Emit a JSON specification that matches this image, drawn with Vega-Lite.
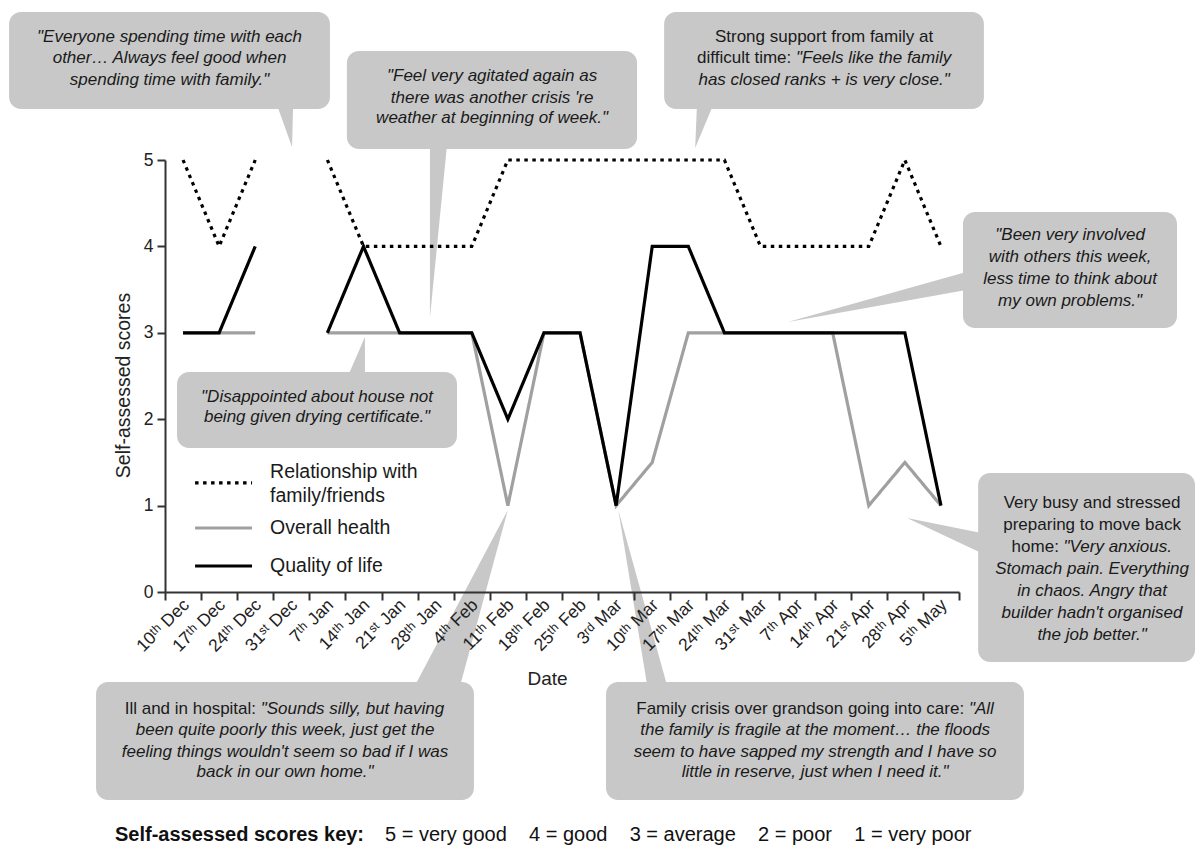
{
  "$schema": "https://vega.github.io/schema/vega-lite/v6.json",
  "width": 794,
  "height": 432,
  "autosize": {"type": "none"},
  "padding": {"left": 165, "top": 160, "right": 237, "bottom": 264},
  "background": "white",
  "config": {
    "view": {"stroke": null},
    "font": "Liberation Sans",
    "axis": {"labelColor": "#222", "titleColor": "#222", "labelFont": "Liberation Sans", "titleFont": "Liberation Sans"}
  },
  "resolve": {"axis": {"x": "independent", "y": "independent"}},
  "datasets": {
    "scores": [
      {"week": 0, "date": "10th Dec", "series": "Overall health", "score": 3},
      {"week": 1, "date": "17th Dec", "series": "Overall health", "score": 3},
      {"week": 2, "date": "24th Dec", "series": "Overall health", "score": 3},
      {"week": 3, "date": "31st Dec", "series": "Overall health", "score": null},
      {"week": 4, "date": "7th Jan", "series": "Overall health", "score": 3},
      {"week": 5, "date": "14th Jan", "series": "Overall health", "score": 3},
      {"week": 6, "date": "21st Jan", "series": "Overall health", "score": 3},
      {"week": 7, "date": "28th Jan", "series": "Overall health", "score": 3},
      {"week": 8, "date": "4th Feb", "series": "Overall health", "score": 3},
      {"week": 9, "date": "11th Feb", "series": "Overall health", "score": 1},
      {"week": 10, "date": "18th Feb", "series": "Overall health", "score": 3},
      {"week": 11, "date": "25th Feb", "series": "Overall health", "score": 3},
      {"week": 12, "date": "3rd Mar", "series": "Overall health", "score": 1},
      {"week": 13, "date": "10th Mar", "series": "Overall health", "score": 1.5},
      {"week": 14, "date": "17th Mar", "series": "Overall health", "score": 3},
      {"week": 15, "date": "24th Mar", "series": "Overall health", "score": 3},
      {"week": 16, "date": "31st Mar", "series": "Overall health", "score": 3},
      {"week": 17, "date": "7th Apr", "series": "Overall health", "score": 3},
      {"week": 18, "date": "14th Apr", "series": "Overall health", "score": 3},
      {"week": 19, "date": "21st Apr", "series": "Overall health", "score": 1},
      {"week": 20, "date": "28th Apr", "series": "Overall health", "score": 1.5},
      {"week": 21, "date": "5th May", "series": "Overall health", "score": 1},
      {"week": 0, "date": "10th Dec", "series": "Quality of life", "score": 3},
      {"week": 1, "date": "17th Dec", "series": "Quality of life", "score": 3},
      {"week": 2, "date": "24th Dec", "series": "Quality of life", "score": 4},
      {"week": 3, "date": "31st Dec", "series": "Quality of life", "score": null},
      {"week": 4, "date": "7th Jan", "series": "Quality of life", "score": 3},
      {"week": 5, "date": "14th Jan", "series": "Quality of life", "score": 4},
      {"week": 6, "date": "21st Jan", "series": "Quality of life", "score": 3},
      {"week": 7, "date": "28th Jan", "series": "Quality of life", "score": 3},
      {"week": 8, "date": "4th Feb", "series": "Quality of life", "score": 3},
      {"week": 9, "date": "11th Feb", "series": "Quality of life", "score": 2},
      {"week": 10, "date": "18th Feb", "series": "Quality of life", "score": 3},
      {"week": 11, "date": "25th Feb", "series": "Quality of life", "score": 3},
      {"week": 12, "date": "3rd Mar", "series": "Quality of life", "score": 1},
      {"week": 13, "date": "10th Mar", "series": "Quality of life", "score": 4},
      {"week": 14, "date": "17th Mar", "series": "Quality of life", "score": 4},
      {"week": 15, "date": "24th Mar", "series": "Quality of life", "score": 3},
      {"week": 16, "date": "31st Mar", "series": "Quality of life", "score": 3},
      {"week": 17, "date": "7th Apr", "series": "Quality of life", "score": 3},
      {"week": 18, "date": "14th Apr", "series": "Quality of life", "score": 3},
      {"week": 19, "date": "21st Apr", "series": "Quality of life", "score": 3},
      {"week": 20, "date": "28th Apr", "series": "Quality of life", "score": 3},
      {"week": 21, "date": "5th May", "series": "Quality of life", "score": 1},
      {"week": 0, "date": "10th Dec", "series": "Relationship with family/friends", "score": 5},
      {"week": 1, "date": "17th Dec", "series": "Relationship with family/friends", "score": 4},
      {"week": 2, "date": "24th Dec", "series": "Relationship with family/friends", "score": 5},
      {"week": 3, "date": "31st Dec", "series": "Relationship with family/friends", "score": null},
      {"week": 4, "date": "7th Jan", "series": "Relationship with family/friends", "score": 5},
      {"week": 5, "date": "14th Jan", "series": "Relationship with family/friends", "score": 4},
      {"week": 6, "date": "21st Jan", "series": "Relationship with family/friends", "score": 4},
      {"week": 7, "date": "28th Jan", "series": "Relationship with family/friends", "score": 4},
      {"week": 8, "date": "4th Feb", "series": "Relationship with family/friends", "score": 4},
      {"week": 9, "date": "11th Feb", "series": "Relationship with family/friends", "score": 5},
      {"week": 10, "date": "18th Feb", "series": "Relationship with family/friends", "score": 5},
      {"week": 11, "date": "25th Feb", "series": "Relationship with family/friends", "score": 5},
      {"week": 12, "date": "3rd Mar", "series": "Relationship with family/friends", "score": 5},
      {"week": 13, "date": "10th Mar", "series": "Relationship with family/friends", "score": 5},
      {"week": 14, "date": "17th Mar", "series": "Relationship with family/friends", "score": 5},
      {"week": 15, "date": "24th Mar", "series": "Relationship with family/friends", "score": 5},
      {"week": 16, "date": "31st Mar", "series": "Relationship with family/friends", "score": 4},
      {"week": 17, "date": "7th Apr", "series": "Relationship with family/friends", "score": 4},
      {"week": 18, "date": "14th Apr", "series": "Relationship with family/friends", "score": 4},
      {"week": 19, "date": "21st Apr", "series": "Relationship with family/friends", "score": 4},
      {"week": 20, "date": "28th Apr", "series": "Relationship with family/friends", "score": 5},
      {"week": 21, "date": "5th May", "series": "Relationship with family/friends", "score": 4}
    ],
    "boxes": [
      {"id": "b1", "x1": -4.82, "x2": 4.07, "y1": 6.713, "y2": 5.59},
      {"id": "b2", "x1": 4.54, "x2": 12.58, "y1": 6.262, "y2": 5.127},
      {"id": "b3", "x1": 13.33, "x2": 22.19, "y1": 6.713, "y2": 5.59},
      {"id": "b4", "x1": 21.61, "x2": 27.54, "y1": 4.398, "y2": 3.056},
      {"id": "b5", "x1": -0.166, "x2": 7.59, "y1": 2.546, "y2": 1.667},
      {"id": "b6", "x1": 22.03, "x2": 28.04, "y1": 1.377, "y2": -0.81},
      {"id": "b7", "x1": -2.41, "x2": 8.06, "y1": -1.042, "y2": -2.407},
      {"id": "b8", "x1": 11.72, "x2": 23.3, "y1": -1.042, "y2": -2.407}
    ],
    "pointersUpDown": [
      {"id": "w1", "y": 5.64, "xa": 2.6, "xb": 3.05},
      {"id": "w1", "y": 5.15, "xa": 3.02, "xb": 3.02},
      {"id": "w2", "y": 5.2, "xa": 6.84, "xb": 7.32},
      {"id": "w2", "y": 3.17, "xa": 6.84, "xb": 6.84},
      {"id": "w3", "y": 5.64, "xa": 14.24, "xb": 14.69},
      {"id": "w3", "y": 5.14, "xa": 14.19, "xb": 14.19},
      {"id": "w5", "y": 2.5, "xa": 4.57, "xb": 5.04},
      {"id": "w5", "y": 2.95, "xa": 5.04, "xb": 5.04},
      {"id": "w7", "y": -1.08, "xa": 6.43, "xb": 7.68},
      {"id": "w7", "y": 0.95, "xa": 9.0, "xb": 9.0},
      {"id": "w8", "y": -1.08, "xa": 12.86, "xb": 13.41},
      {"id": "w8", "y": 0.95, "xa": 12.06, "xb": 12.06}
    ],
    "pointersSide": [
      {"id": "w4", "x": 16.76, "ya": 3.125, "yb": 3.125},
      {"id": "w4", "x": 21.7, "ya": 3.704, "yb": 3.495},
      {"id": "w6", "x": 20.06, "ya": 0.856, "yb": 0.856},
      {"id": "w6", "x": 22.12, "ya": 0.683, "yb": 0.451}
    ],
    "legendLines": [
      {"series": "Relationship with family/friends", "x1": 0.333, "x2": 1.912, "y": 1.262},
      {"series": "Overall health", "x1": 0.333, "x2": 1.912, "y": 0.741},
      {"series": "Quality of life", "x1": 0.333, "x2": 1.912, "y": 0.301}
    ],
    "texts": [
      {"style": "ic", "x": -0.374, "y": 6.424, "text": "\"Everyone spending time with each"},
      {"style": "ic", "x": -0.374, "y": 6.181, "text": "other… Always feel good when"},
      {"style": "ic", "x": -0.374, "y": 5.926, "text": "spending time with family.\""},
      {"style": "ic", "x": 8.562, "y": 5.972, "text": "\"Feel very agitated again as"},
      {"style": "ic", "x": 8.562, "y": 5.718, "text": "there was another crisis 're"},
      {"style": "ic", "x": 8.562, "y": 5.486, "text": "weather at beginning of week.\""},
      {"style": "nc", "x": 17.761, "y": 6.424, "text": "Strong support from family at"},
      {"style": "nr", "x": 16.853, "y": 6.181, "text": "difficult time:"},
      {"style": "il", "x": 16.983, "y": 6.181, "text": "\"Feels like the family"},
      {"style": "ic", "x": 17.761, "y": 5.926, "text": "has closed ranks + is very close.\""},
      {"style": "ic", "x": 24.578, "y": 4.132, "text": "\"Been very involved"},
      {"style": "ic", "x": 24.578, "y": 3.877, "text": "with others this week,"},
      {"style": "ic", "x": 24.578, "y": 3.623, "text": "less time to think about"},
      {"style": "ic", "x": 24.578, "y": 3.368, "text": "my own problems.\""},
      {"style": "ic", "x": 3.713, "y": 2.257, "text": "\"Disappointed about house not"},
      {"style": "ic", "x": 3.713, "y": 2.025, "text": "being given drying certificate.\""},
      {"style": "nc", "x": 25.187, "y": 1.03, "text": "Very busy and stressed"},
      {"style": "nc", "x": 25.187, "y": 0.775, "text": "preparing to move back"},
      {"style": "nr", "x": 24.267, "y": 0.521, "text": "home:"},
      {"style": "il", "x": 24.397, "y": 0.521, "text": "\"Very anxious."},
      {"style": "ic", "x": 25.187, "y": 0.266, "text": "Stomach pain. Everything"},
      {"style": "ic", "x": 25.187, "y": 0.012, "text": "in chaos. Angry that"},
      {"style": "ic", "x": 25.187, "y": -0.243, "text": "builder hadn't organised"},
      {"style": "ic", "x": 25.187, "y": -0.498, "text": "the job better.\""},
      {"style": "nr", "x": 2.023, "y": -1.354, "text": "Ill and in hospital:"},
      {"style": "il", "x": 2.153, "y": -1.354, "text": "\"Sounds silly, but having"},
      {"style": "ic", "x": 2.826, "y": -1.597, "text": "been quite poorly this week, just get the"},
      {"style": "ic", "x": 2.826, "y": -1.852, "text": "feeling things wouldn't seem so bad if I was"},
      {"style": "ic", "x": 2.826, "y": -2.083, "text": "back in our own home.\""},
      {"style": "nr", "x": 21.643, "y": -1.354, "text": "Family crisis over grandson going into care:"},
      {"style": "il", "x": 21.774, "y": -1.354, "text": "\"All"},
      {"style": "ic", "x": 17.512, "y": -1.597, "text": "the family is fragile at the moment… the floods"},
      {"style": "ic", "x": 17.512, "y": -1.852, "text": "seem to have sapped my strength and I have so"},
      {"style": "ic", "x": 17.512, "y": -2.083, "text": "little in reserve, just when I need it.\""},
      {"style": "br", "x": 5.015, "y": -2.8125, "text": "Self-assessed scores key:"},
      {"style": "nl", "x": 5.597, "y": -2.8125, "text": "5 = very good \u00a0\u00a0\u00a04 = good \u00a0\u00a0\u00a03 = average \u00a0\u00a0\u00a02 = poor \u00a0\u00a0\u00a01 = very poor"},
      {"style": "leg", "x": 2.411, "y": 1.389, "text": "Relationship with"},
      {"style": "leg", "x": 2.411, "y": 1.111, "text": "family/friends"},
      {"style": "leg", "x": 2.411, "y": 0.741, "text": "Overall health"},
      {"style": "leg", "x": 2.411, "y": 0.301, "text": "Quality of life"}
    ]
  },
  "layer": [
    {
      "data": {"name": "boxes"},
      "mark": {"type": "rect", "cornerRadius": 12, "color": "#c8c8c8"},
      "encoding": {
        "x": {"field": "x1", "type": "quantitative", "scale": {"domain": [-0.5, 21.5], "nice": false, "zero": false}, "axis": null},
        "x2": {"field": "x2"},
        "y": {"field": "y1", "type": "quantitative", "scale": {"domain": [0, 5], "nice": false, "zero": false}, "axis": null},
        "y2": {"field": "y2"}
      }
    },
    {
      "data": {"name": "pointersUpDown"},
      "mark": {"type": "area", "orient": "horizontal", "color": "#c8c8c8"},
      "encoding": {
        "y": {"field": "y", "type": "quantitative", "scale": {"domain": [0, 5], "nice": false, "zero": false}, "axis": null},
        "x": {"field": "xa", "type": "quantitative", "scale": {"domain": [-0.5, 21.5], "nice": false, "zero": false}, "axis": null},
        "x2": {"field": "xb"},
        "detail": {"field": "id"}
      }
    },
    {
      "data": {"name": "pointersSide"},
      "mark": {"type": "area", "orient": "vertical", "color": "#c8c8c8"},
      "encoding": {
        "x": {"field": "x", "type": "quantitative", "scale": {"domain": [-0.5, 21.5], "nice": false, "zero": false}, "axis": null},
        "y": {"field": "ya", "type": "quantitative", "scale": {"domain": [0, 5], "nice": false, "zero": false}, "axis": null},
        "y2": {"field": "yb"},
        "detail": {"field": "id"}
      }
    },
    {
      "data": {"name": "scores"},
      "mark": {"type": "line", "strokeWidth": 3.2, "invalid": "break-paths-filter-domains"},
      "encoding": {
        "x": {
          "field": "week", "type": "quantitative",
          "scale": {"domain": [-0.5, 21.5], "nice": false, "zero": false},
          "axis": {
            "title": "Date",
            "orient": "bottom",
            "zindex": 2,
            "values": [-0.5, 0, 0.5, 1, 1.5, 2, 2.5, 3, 3.5, 4, 4.5, 5, 5.5, 6, 6.5, 7, 7.5, 8, 8.5, 9, 9.5, 10, 10.5, 11, 11.5, 12, 12.5, 13, 13.5, 14, 14.5, 15, 15.5, 16, 16.5, 17, 17.5, 18, 18.5, 19, 19.5, 20, 20.5, 21, 21.5],
            "labelExpr": "datum.value % 1 != 0 ? '' : ['10ᵗʰ Dec','17ᵗʰ Dec','24ᵗʰ Dec','31ˢᵗ Dec','7ᵗʰ Jan','14ᵗʰ Jan','21ˢᵗ Jan','28ᵗʰ Jan','4ᵗʰ Feb','11ᵗʰ Feb','18ᵗʰ Feb','25ᵗʰ Feb','3ʳᵈ Mar','10ᵗʰ Mar','17ᵗʰ Mar','24ᵗʰ Mar','31ˢᵗ Mar','7ᵗʰ Apr','14ᵗʰ Apr','21ˢᵗ Apr','28ᵗʰ Apr','5ᵗʰ May'][datum.value]",
            "tickOpacity": {"condition": {"test": "datum.value % 1 != 0", "value": 1}, "value": 0},
            "labelAngle": -45,
            "labelAlign": "right",
            "labelBaseline": "middle",
            "labelFontSize": 17.5,
            "labelPadding": 2,
            "labelOffset": 3,
            "labelOverlap": false,
            "labelFlush": false,
            "labelBound": false,
            "tickSize": 8,
            "tickWidth": 2,
            "tickColor": "#333",
            "domainColor": "#333",
            "domainWidth": 2,
            "grid": false,
            "titleFontSize": 19,
            "titleFontWeight": "normal",
            "titleX": 382,
            "titleY": 86,
            "titleBaseline": "middle"
          }
        },
        "y": {
          "field": "score", "type": "quantitative",
          "scale": {"domain": [0, 5], "nice": false, "zero": false},
          "axis": {
            "title": "Self-assessed scores",
            "orient": "left",
            "zindex": 2,
            "values": [0, 1, 2, 3, 4, 5],
            "tickSize": 8,
            "tickWidth": 2,
            "tickColor": "#333",
            "domainColor": "#333",
            "domainWidth": 2,
            "labelFontSize": 17.5,
            "labelPadding": 4,
            "grid": false,
            "titleFontSize": 19.5,
            "titleFontWeight": "normal",
            "titleX": -42,
            "titleY": 225,
            "titleAngle": -90,
            "titleAlign": "center",
            "titleBaseline": "middle"
          }
        },
        "color": {
          "field": "series", "type": "nominal",
          "scale": {"domain": ["Relationship with family/friends", "Overall health", "Quality of life"], "range": ["#000000", "#a0a0a0", "#000000"]},
          "legend": null
        },
        "strokeDash": {
          "field": "series", "type": "nominal",
          "scale": {"domain": ["Relationship with family/friends", "Overall health", "Quality of life"], "range": [[3.5, 4.5], [1, 0], [1, 0]]},
          "legend": null
        }
      }
    },
    {
      "data": {"name": "legendLines"},
      "mark": {"type": "rule", "strokeWidth": 3.2},
      "encoding": {
        "x": {"field": "x1", "type": "quantitative", "scale": {"domain": [-0.5, 21.5], "nice": false, "zero": false}, "axis": null},
        "x2": {"field": "x2"},
        "y": {"field": "y", "type": "quantitative", "scale": {"domain": [0, 5], "nice": false, "zero": false}, "axis": null},
        "color": {"field": "series", "type": "nominal", "legend": null},
        "strokeDash": {"field": "series", "type": "nominal", "legend": null}
      }
    },
    {
      "data": {"name": "texts"},
      "transform": [{"filter": "datum.style == 'ic'"}],
      "mark": {"type": "text", "fontSize": 17, "fontStyle": "italic", "align": "center", "baseline": "middle", "color": "#1a1a1a"},
      "encoding": {
        "x": {"field": "x", "type": "quantitative", "scale": {"domain": [-0.5, 21.5], "nice": false, "zero": false}, "axis": null},
        "y": {"field": "y", "type": "quantitative", "scale": {"domain": [0, 5], "nice": false, "zero": false}, "axis": null},
        "text": {"field": "text"}
      }
    },
    {
      "data": {"name": "texts"},
      "transform": [{"filter": "datum.style == 'nc'"}],
      "mark": {"type": "text", "fontSize": 17, "align": "center", "baseline": "middle", "color": "#1a1a1a"},
      "encoding": {
        "x": {"field": "x", "type": "quantitative", "scale": {"domain": [-0.5, 21.5], "nice": false, "zero": false}, "axis": null},
        "y": {"field": "y", "type": "quantitative", "scale": {"domain": [0, 5], "nice": false, "zero": false}, "axis": null},
        "text": {"field": "text"}
      }
    },
    {
      "data": {"name": "texts"},
      "transform": [{"filter": "datum.style == 'nr'"}],
      "mark": {"type": "text", "fontSize": 17, "align": "right", "baseline": "middle", "color": "#1a1a1a"},
      "encoding": {
        "x": {"field": "x", "type": "quantitative", "scale": {"domain": [-0.5, 21.5], "nice": false, "zero": false}, "axis": null},
        "y": {"field": "y", "type": "quantitative", "scale": {"domain": [0, 5], "nice": false, "zero": false}, "axis": null},
        "text": {"field": "text"}
      }
    },
    {
      "data": {"name": "texts"},
      "transform": [{"filter": "datum.style == 'il'"}],
      "mark": {"type": "text", "fontSize": 17, "fontStyle": "italic", "align": "left", "baseline": "middle", "color": "#1a1a1a"},
      "encoding": {
        "x": {"field": "x", "type": "quantitative", "scale": {"domain": [-0.5, 21.5], "nice": false, "zero": false}, "axis": null},
        "y": {"field": "y", "type": "quantitative", "scale": {"domain": [0, 5], "nice": false, "zero": false}, "axis": null},
        "text": {"field": "text"}
      }
    },
    {
      "data": {"name": "texts"},
      "transform": [{"filter": "datum.style == 'br'"}],
      "mark": {"type": "text", "fontSize": 20, "fontWeight": "bold", "align": "right", "baseline": "middle", "color": "#111"},
      "encoding": {
        "x": {"field": "x", "type": "quantitative", "scale": {"domain": [-0.5, 21.5], "nice": false, "zero": false}, "axis": null},
        "y": {"field": "y", "type": "quantitative", "scale": {"domain": [0, 5], "nice": false, "zero": false}, "axis": null},
        "text": {"field": "text"}
      }
    },
    {
      "data": {"name": "texts"},
      "transform": [{"filter": "datum.style == 'nl'"}],
      "mark": {"type": "text", "fontSize": 20, "align": "left", "baseline": "middle", "color": "#111"},
      "encoding": {
        "x": {"field": "x", "type": "quantitative", "scale": {"domain": [-0.5, 21.5], "nice": false, "zero": false}, "axis": null},
        "y": {"field": "y", "type": "quantitative", "scale": {"domain": [0, 5], "nice": false, "zero": false}, "axis": null},
        "text": {"field": "text"}
      }
    },
    {
      "data": {"name": "texts"},
      "transform": [{"filter": "datum.style == 'leg'"}],
      "mark": {"type": "text", "fontSize": 19.5, "align": "left", "baseline": "middle", "color": "#1a1a1a"},
      "encoding": {
        "x": {"field": "x", "type": "quantitative", "scale": {"domain": [-0.5, 21.5], "nice": false, "zero": false}, "axis": null},
        "y": {"field": "y", "type": "quantitative", "scale": {"domain": [0, 5], "nice": false, "zero": false}, "axis": null},
        "text": {"field": "text"}
      }
    }
  ]
}
